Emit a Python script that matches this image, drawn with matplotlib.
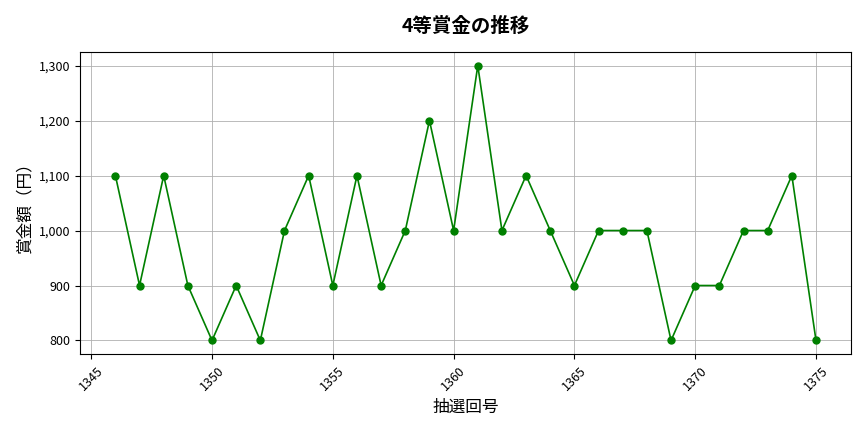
import matplotlib.pyplot as plt
from matplotlib.ticker import FuncFormatter

plt.rcParams['font.family'] = ['Noto Sans CJK JP', 'DejaVu Sans']

draws = list(range(1346, 1376))
prize = [1100, 900, 1100, 900, 800, 900, 800, 1000, 1100, 900,
         1100, 900, 1000, 1200, 1000, 1300, 1000, 1100, 1000, 900,
         1000, 1000, 1000, 800, 900, 900, 1000, 1000, 1100, 800]

fig, ax = plt.subplots(figsize=(8.64, 4.32), dpi=100)
ax.plot(draws, prize, color='green', marker='o', markersize=5, linewidth=1.2)

ax.set_title('4等賞金の推移', fontsize=14, fontweight='bold', pad=14)
ax.set_xlabel('抽選回号', fontsize=12)
ax.set_ylabel('賞金額（円）', fontsize=12)
ax.yaxis.set_major_formatter(FuncFormatter(lambda v, p: f'{int(v):,}'))
ax.set_xticks(range(1345, 1376, 5))
plt.setp(ax.get_xticklabels(), rotation=45)
ax.tick_params(labelsize=9)
ax.grid(True, color='#b0b0b0', linewidth=0.6)

plt.subplots_adjust(left=0.093, right=0.985, top=0.88, bottom=0.18)
plt.savefig('out.png')
